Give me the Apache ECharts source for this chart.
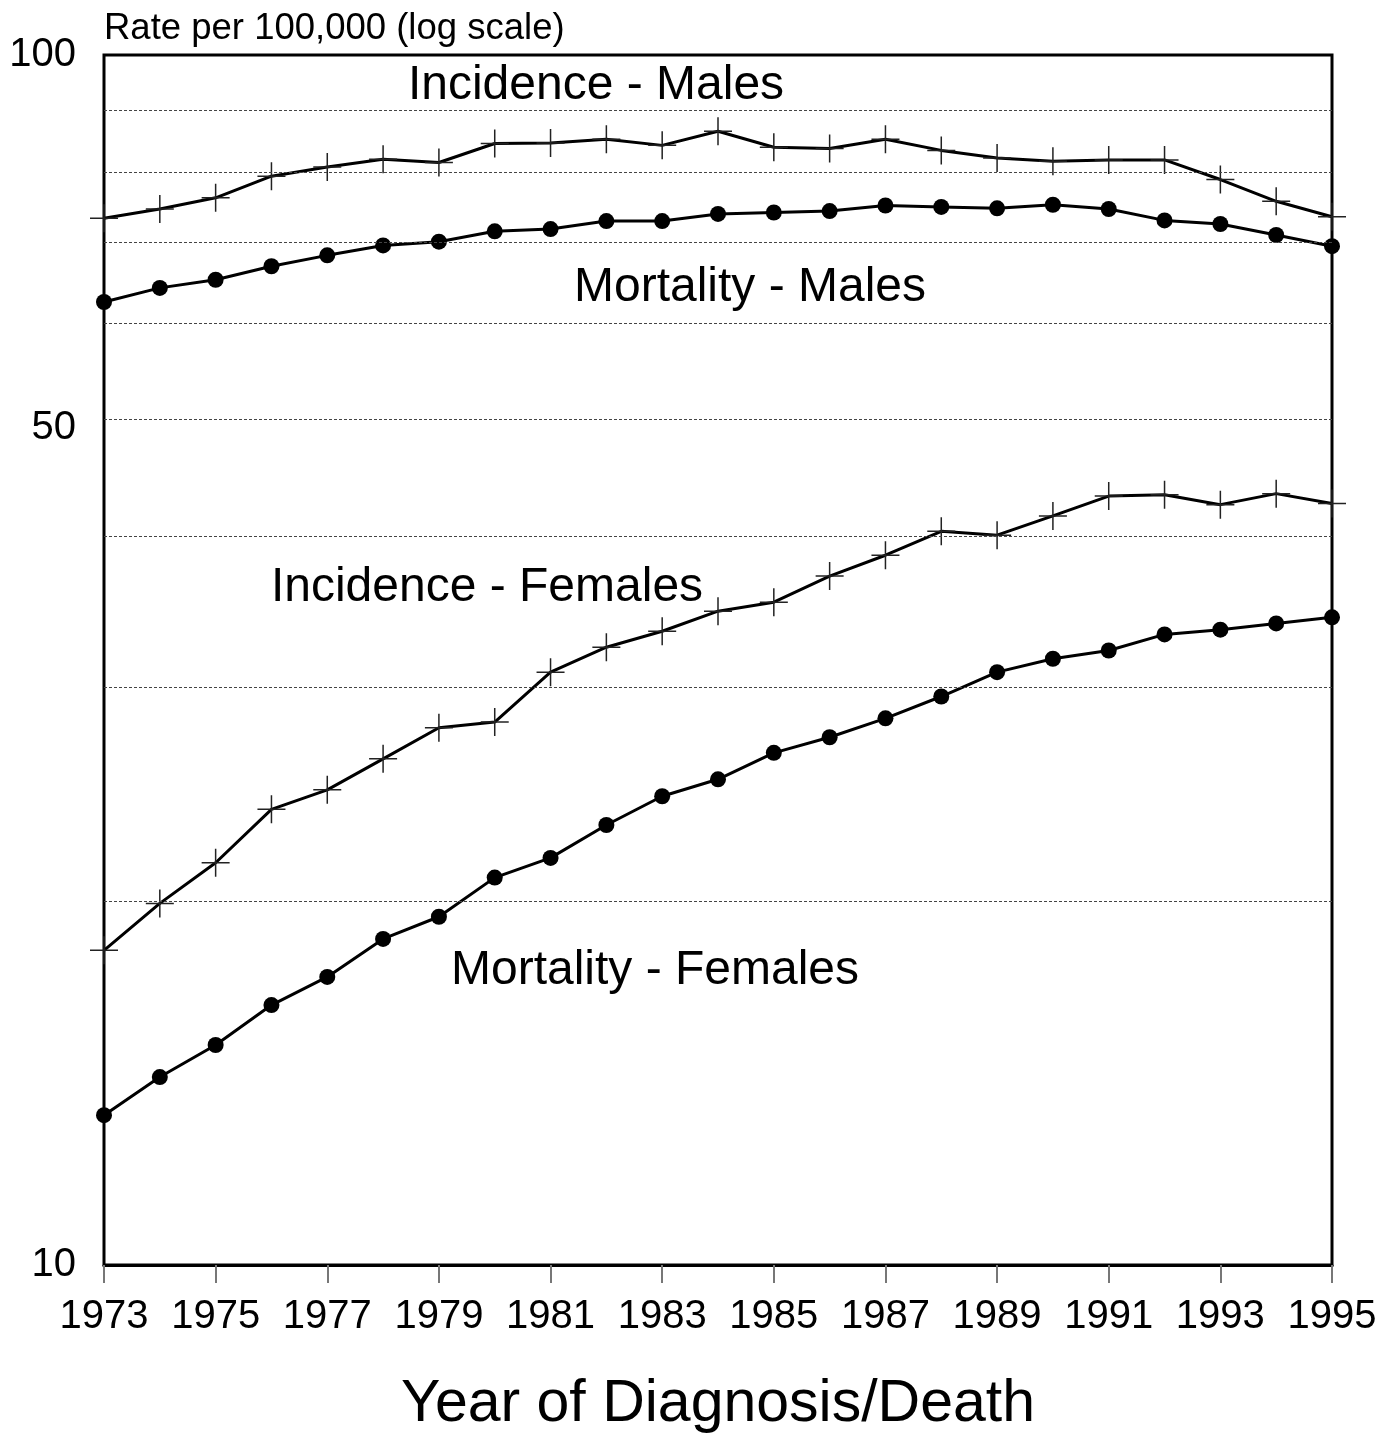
<!DOCTYPE html>
<html>
<head>
<meta charset="utf-8">
<title>Incidence and mortality, 1973-1995</title>
<script src="https://cdn.jsdelivr.net/npm/echarts@6/dist/echarts.min.js"></script>
<style>
  html, body { margin: 0; padding: 0; background: #fff; }
  #chart { width: 1393px; height: 1433px; }
</style>
</head>
<body>
<div id="chart"></div>
<script>
var years = ["1973", "1974", "1975", "1976", "1977", "1978", "1979", "1980",
  "1981", "1982", "1983", "1984", "1985", "1986", "1987", "1988", "1989",
  "1990", "1991", "1992", "1993", "1994", "1995"];

// rates per 100,000
var incidenceMales = [73.3, 74.6, 76.2, 79.4, 80.8, 82.0, 81.5, 84.5, 84.6, 85.2,
  84.2, 86.5, 83.9, 83.7, 85.2, 83.4, 82.2, 81.7, 81.9, 81.9, 78.9, 75.7, 73.5];
var mortalityMales = [62.5, 64.2, 65.2, 66.9, 68.3, 69.6, 70.1, 71.5, 71.8, 72.9,
  72.9, 73.9, 74.1, 74.3, 75.1, 74.9, 74.7, 75.2, 74.6, 73.0, 72.5, 71.0, 69.5];
var incidenceFemales = [18.2, 19.9, 21.5, 23.8, 24.7, 26.2, 27.8, 28.1, 30.9, 32.4,
  33.4, 34.7, 35.3, 37.1, 38.6, 40.4, 40.1, 41.6, 43.2, 43.3, 42.5, 43.4, 42.6];
var mortalityFemales = [13.3, 14.3, 15.2, 16.4, 17.3, 18.6, 19.4, 20.9, 21.7, 23.1,
  24.4, 25.2, 26.5, 27.3, 28.3, 29.5, 30.9, 31.7, 32.2, 33.2, 33.5, 33.9, 34.3];

// dotted reference lines and the extra tick label on the log axis
var gridValues = [20, 30, 40, 50, 60, 70, 80, 90];
var extraLabels = [50];

var seriesNotes = [
  { text: "Incidence - Males", x: 596, y: 86 },
  { text: "Mortality - Males", x: 750, y: 288 },
  { text: "Incidence - Females", x: 487, y: 588 },
  { text: "Mortality - Females", x: 655, y: 971 }
];

var FONT = "'Liberation Sans', Arial, Helvetica, sans-serif";
var crossPath = "path://M0,13.25 H28 V14.75 H0 Z M13.25,0 H14.75 V28 H13.25 Z";

function lineSeries(name, data, marker) {
  var cross = marker === "cross";
  return {
    name: name,
    type: "line",
    data: data,
    z: 3,
    showAllSymbol: true,
    symbol: cross ? crossPath : "circle",
    symbolSize: cross ? [28, 28] : 16,
    lineStyle: { color: "#000", width: 3 },
    itemStyle: { color: cross ? "#222" : "#000" }
  };
}

var chart = echarts.init(document.getElementById("chart"), null, { renderer: "canvas" });

var option = {
  animation: false,
  backgroundColor: "#fff",
  textStyle: { fontFamily: FONT },
  grid: {
    left: 104, right: 61, top: 55, bottom: 168,
    outerBoundsMode: "none",
    containLabel: false,
    show: true, borderColor: "#000", borderWidth: 3, backgroundColor: "transparent"
  },
  xAxis: {
    type: "category",
    data: years,
    boundaryGap: false,
    name: "Year of Diagnosis/Death",
    nameLocation: "middle",
    nameGap: 110,
    nameTextStyle: { fontSize: 59, color: "#000", fontFamily: FONT },
    axisLine: { lineStyle: { color: "#000", width: 3 } },
    axisTick: { interval: 1, length: 18, lineStyle: { color: "#777", width: 2 } },
    axisLabel: { interval: 1, fontSize: 40, color: "#000", margin: 32, fontFamily: FONT },
    splitLine: { show: false }
  },
  yAxis: {
    type: "log",
    logBase: 10,
    min: 10,
    max: 100,
    name: "Rate per 100,000 (log scale)",
    nameLocation: "end",
    nameGap: 8,
    nameTextStyle: { fontSize: 36.5, color: "#000", align: "left", fontFamily: FONT },
    axisLine: { lineStyle: { color: "#000", width: 3 } },
    axisTick: { show: false },
    axisLabel: { fontSize: 40, color: "#000", margin: 28, fontFamily: FONT },
    splitLine: { show: false }
  },
  graphic: seriesNotes.map(function (n) {
    return {
      type: "text",
      x: n.x,
      y: n.y,
      z: 10,
      style: {
        text: n.text,
        font: "48px " + FONT,
        fill: "#000",
        align: "center",
        verticalAlign: "middle"
      }
    };
  }),
  series: [
    {
      name: "grid",
      type: "line",
      data: [],
      z: 1,
      silent: true,
      markLine: {
        silent: true,
        symbol: ["none", "none"],
        lineStyle: { color: "#444", width: 1, type: [3, 2] },
        label: { show: false },
        emphasis: { disabled: true },
        data: gridValues.map(function (v) {
          var item = { yAxis: v };
          if (extraLabels.indexOf(v) >= 0) {
            item.label = {
              show: true, position: "start", formatter: String(v),
              distance: 28, offset: [0, 9], fontSize: 40, color: "#000", fontFamily: FONT
            };
          }
          return item;
        })
      }
    },
    lineSeries("Incidence - Males", incidenceMales, "cross"),
    lineSeries("Mortality - Males", mortalityMales, "dot"),
    lineSeries("Incidence - Females", incidenceFemales, "cross"),
    lineSeries("Mortality - Females", mortalityFemales, "dot")
  ]
};

chart.setOption(option);
</script>
</body>
</html>
